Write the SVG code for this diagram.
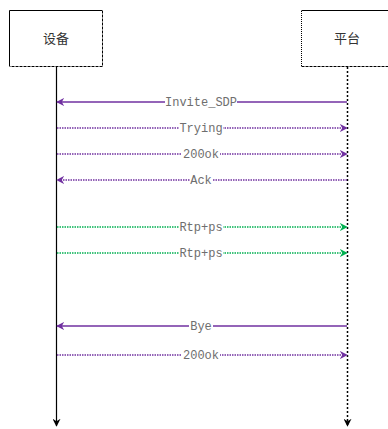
<svg xmlns="http://www.w3.org/2000/svg" width="388" height="429" viewBox="0 0 388 429">
<style>
.lbl{font-family:"Liberation Mono","Noto Sans CJK SC",monospace;font-size:12px;fill:#6e6e6e;text-anchor:middle}
.nt{font-family:"Noto Sans CJK SC",sans-serif;font-size:13px;fill:#333;text-anchor:middle}
.p{stroke:#7030a0;stroke-width:1.5;fill:none}
.pd{stroke:#7030a0;stroke-width:1.5;fill:none;stroke-dasharray:1.5 1}
.g{stroke:#00b050;stroke-width:1.5;fill:none;stroke-dasharray:1.5 1}
.bg{fill:#fff}
</style>
<defs>
<marker id="ap" viewBox="0 0 10 10" refX="9" refY="5" markerWidth="8" markerHeight="8" orient="auto" markerUnits="userSpaceOnUse"><path d="M0,0 L10,5 L0,10 L3,5 z" fill="#7030a0"/></marker>
<marker id="ag" viewBox="0 0 10 10" refX="9" refY="5" markerWidth="8" markerHeight="8" orient="auto" markerUnits="userSpaceOnUse"><path d="M0,0 L10,5 L0,10 L3,5 z" fill="#00b050"/></marker>
<marker id="ak" viewBox="0 0 10 10" refX="9" refY="5" markerWidth="8" markerHeight="8" orient="auto" markerUnits="userSpaceOnUse"><path d="M0,0 L10,5 L0,10 L3,5 z" fill="#000"/></marker>
</defs>
<g id="node-device">
<path d="M9.5,66 V10.5 H102" stroke="#000" fill="none"/>
<path d="M102.5,10.5 V66.5 H9.5" stroke="#000" fill="none" stroke-dasharray="3 1"/>
<text class="nt" x="56" y="43">设备</text>
</g>
<g id="node-platform">
<path d="M301.5,66 V10.5" stroke="#000" fill="none" stroke-dasharray="1 1"/>
<path d="M301.5,10.5 H388" stroke="#000" fill="none"/>
<path d="M301.5,66.5 H388" stroke="#000" fill="none" stroke-dasharray="3 1"/>
<text class="nt" x="347" y="43">平台</text>
</g>
<g id="connectors">
<line x1="56.5" y1="67" x2="56.5" y2="426" stroke="#000" stroke-width="1.2" marker-end="url(#ak)"/>
<line x1="347.5" y1="67" x2="347.5" y2="426" stroke="#000" stroke-width="1.5" stroke-dasharray="2 2" marker-end="url(#ak)"/>
<line class="p" x1="347" y1="102" x2="57" y2="102" marker-end="url(#ap)"/>
<line class="pd" x1="57" y1="128" x2="347" y2="128" marker-end="url(#ap)"/>
<line class="pd" x1="57" y1="154" x2="347" y2="154" marker-end="url(#ap)"/>
<line class="pd" x1="347" y1="180" x2="57" y2="180" marker-end="url(#ap)"/>
<line class="g" x1="57" y1="227" x2="347" y2="227" marker-end="url(#ag)"/>
<line class="g" x1="57" y1="253" x2="347" y2="253" marker-end="url(#ag)"/>
<line class="p" x1="347" y1="326" x2="57" y2="326" marker-end="url(#ap)"/>
<line class="pd" x1="57" y1="355" x2="347" y2="355" marker-end="url(#ap)"/>
<rect class="bg" x="165" y="95" width="72" height="13"/>
<text class="lbl" x="201" y="106">Invite_SDP</text>
<rect class="bg" x="179" y="121" width="44" height="13"/>
<text class="lbl" x="201" y="132">Trying</text>
<rect class="bg" x="182" y="147" width="38" height="13"/>
<text class="lbl" x="201" y="158">200ok</text>
<rect class="bg" x="190" y="173" width="23" height="13"/>
<text class="lbl" x="201" y="184">Ack</text>
<rect class="bg" x="179" y="220" width="44" height="13"/>
<text class="lbl" x="201" y="231">Rtp+ps</text>
<rect class="bg" x="179" y="246" width="44" height="13"/>
<text class="lbl" x="201" y="257">Rtp+ps</text>
<rect class="bg" x="189" y="319" width="24" height="13"/>
<text class="lbl" x="201" y="330">Bye</text>
<rect class="bg" x="182" y="348" width="38" height="13"/>
<text class="lbl" x="201" y="359">200ok</text>
</g>
</svg>
